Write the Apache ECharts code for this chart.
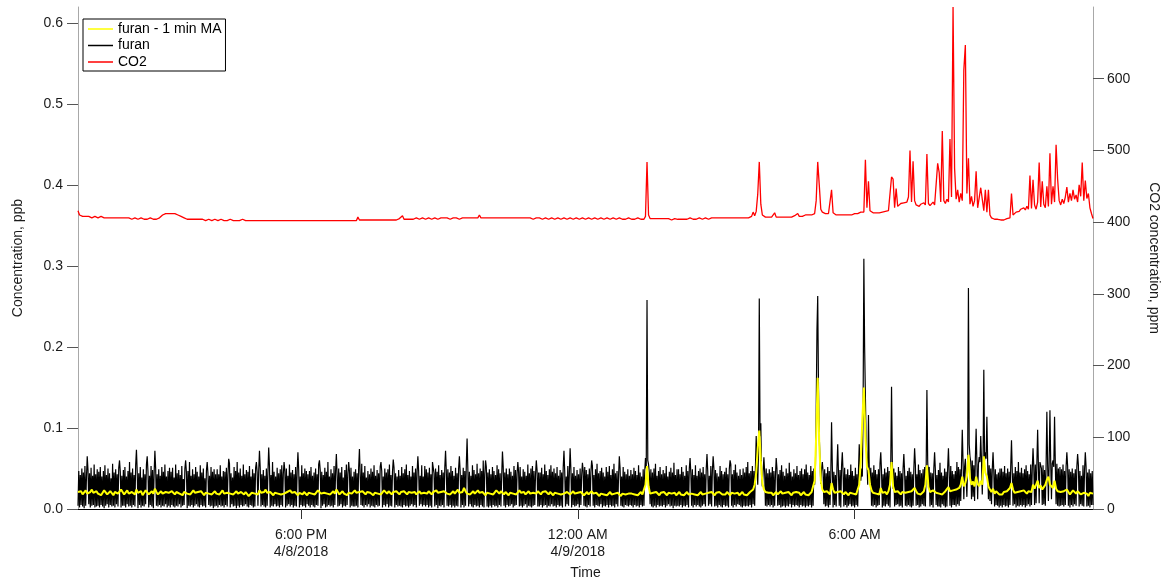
<!DOCTYPE html>
<html>
<head>
<meta charset="utf-8">
<script src="https://cdn.jsdelivr.net/npm/echarts@6/dist/echarts.min.js"></script>
<style>
  html, body { margin: 0; padding: 0; background: #fff; overflow: hidden; }
  #chart { width: 1165px; height: 581px; }
</style>
</head>
<body>
<div id="chart"></div>
<script>
// Series names, in legend order
const seriesNames = ['furan - 1 min MA', 'furan', 'CO2'];

// Record starts 4/8/2018 13:10 and ends 4/9/2018 11:10; one row per hour
const startTime = Date.UTC(2018, 3, 8, 13, 10);
const endTime = Date.UTC(2018, 3, 9, 11, 10);
const furanStepMinutes = 1;   // furan: one value per minute
const slowStepMinutes = 2;    // moving average and CO2: one value every 2 minutes

// Time axis ticks and their labels
const timeTicks = [Date.UTC(2018, 3, 8, 18, 0), Date.UTC(2018, 3, 9, 0, 0), Date.UTC(2018, 3, 9, 6, 0)];
const timeTickLabels = ['6:00 PM\n4/8/2018', '12:00 AM\n4/9/2018', '6:00 AM'];

// Left axis (ppb) and right axis (ppm) ticks
const ppbTicks = [0, 0.1, 0.2, 0.3, 0.4, 0.5, 0.6];
const ppmTicks = [0, 100, 200, 300, 400, 500, 600];

// furan, ppb (60 values per hour)
const furan = [
  [.004,.047,.002,.042,.005,.050,.003,.045,.001,.053, .004,.039,.065,.048,.006,.044,.002,.051,.004,.041, .005,.055,.002,.043,.003,.049,.004,.046,.002,.052,
   .005,.040,.003,.047,.001,.054,.004,.042,.006,.050, .002,.044,.005,.038,.003,.056,.004,.045,.002,.049, .006,.043,.003,.051,.060,.046,.002,.041,.004,.048],
  [.004,.052,.002,.040,.006,.047,.003,.058,.004,.045, .002,.050,.005,.042,.003,.054,.073,.047,.001,.044, .005,.052,.002,.039,.004,.049,.003,.043,.006,.055,
   .065,.046,.002,.041,.005,.053,.003,.048,.001,.044, .072,.050,.004,.043,.003,.049,.005,.041,.002,.052, .004,.046,.003,.055,.006,.040,.002,.047,.004,.051],
  [.002,.046,.005,.051,.003,.039,.002,.055,.004,.044, .003,.048,.006,.042,.002,.053,.004,.037,.005,.050, .060,.045,.001,.047,.004,.058,.003,.041,.005,.049,
   .002,.043,.004,.052,.006,.046,.003,.040,.002,.054, .005,.045,.003,.050,.004,.038,.002,.047,.058,.044, .005,.041,.003,.052,.004,.046,.001,.049,.003,.043],
  [.004,.049,.002,.043,.005,.054,.003,.040,.004,.047, .002,.046,.005,.051,.003,.042,.062,.056,.002,.044, .006,.039,.003,.052,.004,.047,.001,.058,.004,.045,
   .002,.050,.005,.041,.003,.055,.004,.043,.006,.048, .003,.046,.002,.053,.005,.040,.004,.049,.002,.044, .003,.051,.058,.045,.004,.047,.072,.050,.003,.043],
  [.005,.048,.003,.041,.002,.050,.004,.045,.076,.053, .002,.042,.004,.058,.003,.046,.006,.040,.003,.051, .004,.044,.002,.049,.005,.054,.003,.043,.058,.047,
   .002,.050,.004,.041,.006,.055,.003,.045,.005,.048, .002,.043,.004,.052,.003,.046,.070,.049,.002,.040, .005,.054,.003,.044,.004,.050,.002,.047,.006,.043],
  [.004,.047,.002,.052,.005,.041,.003,.045,.002,.050, .005,.043,.004,.055,.060,.048,.001,.046,.004,.042, .006,.051,.002,.046,.003,.058,.005,.040,.003,.049,
   .004,.044,.002,.053,.005,.047,.068,.041,.003,.050, .004,.045,.006,.052,.002,.039,.004,.048,.003,.055, .005,.043,.058,.047,.002,.051,.004,.040,.003,.046],
  [.003,.049,.004,.044,.002,.051,.074,.042,.005,.056, .004,.045,.002,.053,.005,.039,.003,.047,.006,.043, .002,.050,.004,.046,.003,.054,.002,.041,.005,.048,
   .003,.044,.004,.052,.058,.047,.002,.040,.005,.050, .003,.045,.006,.049,.002,.055,.004,.042,.003,.046, .061,.051,.002,.044,.005,.040,.003,.048,.004,.041],
  [.003,.052,.002,.044,.005,.049,.003,.055,.004,.042, .002,.047,.004,.040,.006,.053,.003,.045,.005,.050, .002,.046,.065,.047,.004,.041,.006,.054,.003,.040,
   .005,.053,.003,.049,.005,.045,.002,.051,.004,.043, .002,.058,.058,.044,.003,.050,.005,.046,.001,.054, .004,.042,.003,.048,.005,.045,.002,.051,.072,.046],
  [.004,.049,.003,.045,.005,.053,.002,.047,.004,.041, .002,.051,.004,.044,.003,.050,.065,.046,.002,.042, .005,.051,.002,.047,.004,.055,.087,.049,.003,.046,
   .006,.041,.003,.054,.002,.048,.005,.043,.003,.056, .004,.044,.002,.050,.005,.047,.003,.060,.002,.043, .060,.052,.003,.045,.002,.049,.004,.043,.002,.052],
  [.005,.047,.003,.042,.004,.054,.002,.049,.005,.044, .003,.040,.071,.052,.004,.045,.002,.050,.005,.043, .003,.050,.004,.046,.006,.041,.002,.053,.004,.048,
   .005,.043,.058,.046,.003,.052,.004,.040,.002,.049, .004,.046,.006,.041,.002,.055,.004,.044,.003,.050, .002,.053,.004,.047,.005,.042,.060,.048,.003,.045],
  [.003,.045,.005,.051,.002,.043,.004,.055,.005,.047, .002,.042,.004,.049,.003,.054,.006,.046,.003,.050, .004,.044,.002,.052,.005,.041,.003,.048,.004,.045,
   .002,.051,.072,.046,.003,.040,.006,.053,.004,.044, .075,.049,.002,.044,.005,.052,.003,.041,.004,.048, .006,.043,.002,.050,.005,.041,.057,.047,.004,.052],
  [.003,.048,.002,.043,.005,.050,.003,.045,.060,.053, .004,.042,.002,.049,.005,.056,.004,.044,.003,.047, .006,.051,.002,.045,.004,.040,.003,.052,.005,.046,
   .002,.053,.005,.042,.003,.049,.004,.056,.002,.044, .006,.047,.003,.041,.065,.050,.004,.040,.003,.052, .002,.046,.005,.043,.004,.049,.003,.041,.005,.048],
  [.004,.043,.002,.051,.005,.047,.003,.042,.004,.054, .002,.045,.005,.040,.003,.049,.004,.046,.063,.050, .258,.060,.055,.045,.006,.049,.003,.045,.002,.050,
   .004,.056,.002,.041,.005,.047,.003,.052,.004,.043, .003,.048,.005,.044,.002,.053,.004,.040,.006,.046, .003,.051,.004,.045,.001,.057,.004,.042,.003,.049],
  [.004,.049,.003,.043,.005,.052,.002,.046,.004,.041, .003,.054,.005,.047,.002,.050,.063,.044,.004,.049, .002,.042,.005,.054,.003,.041,.005,.047,.003,.050,
   .002,.045,.004,.052,.006,.043,.003,.049,.068,.046, .004,.041,.006,.053,.003,.047,.065,.050,.003,.048, .004,.044,.002,.040,.005,.053,.003,.047,.002,.043],
  [.005,.046,.003,.051,.004,.043,.002,.049,.060,.055, .004,.043,.002,.048,.005,.055,.003,.045,.006,.041, .005,.049,.003,.042,.002,.050,.004,.045,.003,.052,
   .004,.058,.003,.044,.005,.047,.002,.053,.006,.047, .004,.051,.090,.050,.030,.070,.260,.090,.106,.040, .028,.030,.064,.045,.004,.050,.003,.044,.005,.049],
  [.003,.045,.005,.052,.002,.047,.004,.041,.063,.050, .004,.043,.005,.048,.002,.054,.003,.046,.004,.041, .002,.050,.004,.044,.003,.057,.006,.046,.002,.040,
   .005,.049,.003,.044,.005,.053,.004,.042,.002,.047, .005,.050,.003,.043,.004,.049,.002,.055,.004,.045, .003,.042,.005,.053,.002,.047,.004,.050,.030,.050],
  [.120,.220,.263,.150,.090,.060,.031,.050,.058,.046, .006,.049,.003,.044,.004,.052,.002,.047,.005,.041, .107,.053,.002,.046,.005,.042,.003,.050,.080,.044,
   .004,.048,.002,.053,.070,.045,.003,.051,.005,.043, .002,.049,.004,.042,.006,.055,.003,.047,.004,.041, .002,.051,.005,.043,.003,.047,.080,.052,.035,.050],
  [.040,.120,.309,.200,.200,.080,.060,.030,.116,.050, .032,.051,.004,.045,.003,.054,.005,.048,.002,.043, .004,.049,.005,.056,.070,.046,.002,.043,.004,.050,
   .003,.045,.006,.052,.004,.047,.002,.056,.151,.060, .025,.050,.003,.045,.005,.041,.006,.052,.003,.047, .004,.044,.002,.050,.068,.046,.004,.041,.003,.047],
  [.005,.051,.003,.046,.002,.043,.004,.049,.075,.055, .004,.043,.005,.055,.002,.048,.003,.044,.006,.049, .004,.052,.003,.046,.147,.060,.030,.052,.003,.045,
   .005,.044,.002,.050,.070,.048,.005,.042,.003,.048, .003,.057,.002,.045,.006,.041,.004,.050,.002,.046, .003,.051,.075,.044,.004,.053,.002,.047,.005,.043],
  [.005,.047,.003,.058,.006,.052,.004,.049,.010,.055, .098,.058,.012,.052,.062,.060,.015,.056,.273,.080, .065,.058,.012,.060,.015,.054,.010,.062,.099,.058,
   .012,.055,.064,.058,.090,.060,.018,.057,.172,.060, .070,.062,.114,.058,.012,.054,.010,.050,.006,.049, .070,.046,.003,.049,.005,.043,.004,.045,.002,.050],
  [.004,.050,.002,.046,.005,.053,.003,.044,.004,.050, .002,.046,.005,.052,.085,.047,.004,.044,.006,.052, .002,.047,.004,.058,.003,.045,.005,.051,.003,.044,
   .005,.049,.002,.054,.004,.047,.006,.043,.003,.055, .005,.049,.075,.052,.005,.055,.007,.056,.098,.054, .007,.058,.060,.050,.005,.054,.006,.048,.004,.053],
  [.120,.055,.010,.060,.122,.058,.012,.056,.060,.052, .114,.055,.006,.056,.004,.050,.003,.052,.004,.049, .005,.055,.003,.047,.005,.052,.070,.053,.004,.049,
   .002,.046,.005,.050,.003,.044,.006,.049,.004,.052, .068,.054,.003,.047,.006,.041,.004,.054,.003,.048, .070,.052,.003,.045,.004,.049,.002,.044,.005,.047],
  [.005]
];

// furan 1-minute moving average, ppb (30 values per hour)
const furanMA = [
  [.021,.019,.022,.018,.020,.023,.019,.017,.021,.024, .020,.018,.022,.019,.021,.017,.020,.023,.021,.018, .019,.022,.020,.017,.021,.023,.019,.020,.024,.021],
  [.018,.020,.023,.019,.017,.021,.022,.018,.024,.020, .019,.022,.017,.020,.023,.021,.018,.020,.022,.019, .025,.021,.018,.020,.022,.019,.017,.021,.023,.020],
  [.019,.022,.020,.018,.021,.023,.019,.020,.017,.021, .022,.019,.021,.018,.020,.023,.020,.018,.021,.019, .022,.020,.017,.020,.022,.019,.021,.018,.020,.022],
  [.019,.021,.018,.020,.023,.019,.017,.020,.022,.019, .021,.018,.020,.022,.019,.017,.021,.020,.018,.021, .019,.016,.018,.020,.022,.019,.021,.018,.023,.020],
  [.019,.021,.024,.020,.018,.021,.019,.017,.020,.022, .019,.021,.018,.020,.019,.017,.021,.019,.023,.020, .018,.021,.019,.017,.020,.022,.018,.021,.019,.017],
  [.020,.022,.019,.021,.018,.020,.023,.021,.019,.017, .020,.022,.019,.021,.018,.020,.022,.019,.024,.021, .018,.020,.022,.019,.021,.017,.020,.022,.019,.021],
  [.023,.020,.018,.021,.019,.022,.020,.018,.021,.023, .020,.019,.017,.020,.022,.019,.021,.018,.020,.023, .021,.019,.022,.020,.018,.021,.019,.022,.020,.018],
  [.021,.019,.022,.020,.018,.021,.023,.020,.019,.021, .018,.020,.022,.019,.017,.020,.021,.019,.022,.020, .018,.021,.019,.023,.020,.018,.021,.019,.022,.020],
  [.019,.021,.018,.020,.022,.019,.021,.024,.020,.018, .021,.026,.022,.019,.021,.018,.020,.022,.019,.021, .023,.020,.018,.021,.019,.017,.020,.022,.019,.021],
  [.018,.020,.023,.021,.019,.022,.020,.018,.021,.019, .017,.020,.022,.019,.021,.018,.020,.023,.020,.019, .021,.018,.020,.022,.019,.017,.020,.021,.019,.022],
  [.020,.018,.021,.019,.022,.020,.018,.021,.019,.017, .020,.022,.019,.021,.018,.020,.019,.017,.021,.019, .018,.020,.022,.019,.017,.020,.018,.021,.019,.017],
  [.019,.021,.018,.020,.022,.019,.017,.020,.018,.016, .019,.021,.018,.020,.017,.019,.021,.018,.020,.019, .017,.020,.018,.016,.019,.021,.018,.020,.019,.017],
  [.019,.021,.018,.020,.017,.019,.021,.018,.020,.030, .053,.028,.019,.017,.020,.018,.021,.019,.017,.020, .018,.021,.019,.017,.020,.022,.019,.018,.020,.017],
  [.019,.021,.018,.020,.017,.019,.021,.018,.016,.019, .021,.018,.020,.017,.019,.021,.018,.020,.019,.017, .020,.018,.021,.019,.017,.020,.018,.021,.019,.018],
  [.020,.018,.021,.019,.017,.020,.022,.019,.018,.020, .017,.019,.021,.018,.020,.017,.019,.021,.022,.024, .030,.045,.075,.097,.060,.032,.024,.021,.019,.020],
  [.018,.020,.017,.019,.021,.018,.020,.022,.019,.017, .020,.018,.021,.019,.017,.020,.018,.021,.019,.020, .017,.019,.021,.018,.020,.017,.019,.021,.023,.035],
  [.090,.162,.080,.035,.024,.021,.019,.022,.020,.018, .032,.024,.020,.018,.021,.019,.022,.020,.018,.021, .019,.017,.020,.022,.019,.021,.018,.024,.030,.060],
  [.110,.150,.090,.052,.048,.030,.023,.020,.022,.019, .021,.018,.026,.020,.019,.021,.018,.022,.030,.058, .028,.021,.019,.022,.020,.018,.021,.023,.020,.019],
  [.021,.019,.022,.020,.026,.022,.019,.021,.018,.020, .022,.030,.054,.027,.021,.019,.023,.025,.020,.022, .019,.021,.018,.020,.022,.024,.027,.022,.020,.023],
  [.021,.024,.022,.026,.030,.040,.028,.032,.040,.067, .038,.030,.034,.028,.040,.031,.028,.035,.030,.065, .045,.040,.028,.024,.021,.025,.019,.022,.020,.018],
  [.020,.018,.021,.019,.022,.020,.026,.032,.024,.020, .018,.021,.019,.022,.020,.023,.021,.019,.022,.024, .021,.030,.025,.027,.035,.026,.029,.024,.027,.030],
  [.036,.040,.030,.028,.026,.035,.025,.022,.024,.021, .019,.022,.020,.024,.021,.018,.020,.023,.021,.019, .022,.020,.018,.017,.020,.022,.019,.016,.020,.018],
  [.019]
];

// CO2, ppm (30 values per hour)
const co2 = [
  [416,410,409,408,407,408,407,408,407,406, 407,408,407,406,407,408,407,406,407,406, 407,406,407,406,405,406,407,406,405,406],
  [405,406,405,406,405,404,405,406,405,404, 405,406,405,404,405,404,405,406,405,404, 405,404,405,406,408,410,411,412,411,412],
  [413,412,411,412,411,410,409,408,407,406, 405,404,405,404,403,404,403,404,403,404, 403,404,403,402,403,404,403,402,403,404],
  [403,402,403,404,403,402,403,402,403,404, 403,402,403,402,403,402,403,404,403,402, 403,402,401,402,403,402,403,402,403,402],
  [403,402,403,402,401,402,403,402,403,402, 401,402,403,402,401,402,403,402,401,402, 403,402,401,402,403,402,401,402,403,402],
  [401,402,403,402,401,402,403,402,401,402, 403,402,401,402,403,402,403,402,401,402, 403,402,403,402,403,402,403,402,403,402],
  [403,402,407,403,402,403,402,403,404,403, 402,403,404,403,402,403,404,403,402,403, 404,403,404,403,404,403,404,403,404,405],
  [404,409,404,405,404,405,404,405,404,405, 406,405,404,405,406,405,404,405,406,405, 404,405,406,405,404,405,406,405,406,405],
  [406,405,404,405,406,405,406,405,404,405, 406,405,406,405,406,405,406,405,406,405, 406,410,406,405,406,405,406,407,406,405],
  [406,405,406,407,406,405,406,405,406,407, 406,405,406,405,406,405,406,407,406,405, 406,405,406,405,406,405,404,405,406,405],
  [406,405,404,405,406,405,404,405,406,405, 404,405,406,405,404,405,406,405,404,405, 406,405,404,405,406,405,404,405,406,405],
  [404,405,406,405,404,405,406,405,404,405, 406,405,404,405,406,405,404,405,406,405, 404,405,406,405,404,405,404,405,406,405],
  [404,405,404,405,406,405,404,405,404,408, 484,410,405,404,405,404,405,404,405,404, 405,404,405,404,405,404,403,404,405,404],
  [404,405,404,405,404,405,404,405,406,405, 404,405,404,405,406,405,404,405,406,405, 404,405,406,405,406,405,406,405,406,405],
  [406,405,406,405,406,405,406,405,406,407, 406,405,406,407,406,405,406,407,408,414, 409,415,439,484,425,410,408,407,408,407],
  [408,407,408,413,407,408,407,408,407,408, 407,408,407,408,407,408,409,408,412,408, 409,408,409,410,409,410,411,410,411,412],
  [430,484,452,418,414,413,412,413,412,411, 445,413,411,410,409,410,409,410,409,410, 409,410,409,410,411,412,413,412,413,414],
  [413,414,487,420,457,416,414,413,412,413, 414,413,412,414,413,415,414,416,418,463, 460,420,447,422,424,426,425,427,426,428],
  [435,500,428,485,430,424,426,422,425,423, 427,424,495,426,423,425,428,424,426,482, 469,428,527,430,426,432,428,516,435,700],
  [475,432,445,428,440,430,612,647,440,489, 425,436,422,430,471,420,418,448,450,416, 445,414,445,410,406,405,404,403,404,403],
  [403,404,403,404,405,404,406,440,410,412, 414,416,415,418,416,420,417,422,418,465, 419,459,424,418,428,483,421,457,425,420],
  [450,422,496,425,450,428,508,460,430,424, 432,426,435,449,428,440,430,445,432,438, 428,452,436,483,430,458,433,440,420,412],
  [405]
];

const FONT = '"Liberation Sans", Arial, "DejaVu Sans", sans-serif';

// Attach a timestamp to every sample (row = hour, column = step within the hour)
function toPoints(rows, stepMinutes) {
  const pts = [];
  rows.forEach((row, h) => {
    row.forEach((v, j) => {
      pts.push([startTime + h * 3600e3 + j * stepMinutes * 60e3, v]);
    });
  });
  return pts;
}

const chart = echarts.init(document.getElementById('chart'), null, { renderer: 'canvas' });

const axisGray = '#a8a8a8';
const labelStyle = { fontFamily: FONT, fontSize: 14, color: '#1a1a1a' };

chart.setOption({
  animation: false,
  backgroundColor: '#fff',
  grid: { left: 78, right: 72, top: 7, bottom: 72, containLabel: false, outerBoundsMode: 'none' },
  legend: {
    data: seriesNames,
    orient: 'vertical',
    left: 83,
    top: 19,
    padding: [3, 4, 2, 5],
    itemGap: 2.5,
    itemWidth: 25,
    itemHeight: 1.5,
    icon: 'rect',
    borderColor: '#000',
    borderWidth: 1,
    borderRadius: 0,
    backgroundColor: '#fff',
    textStyle: { fontFamily: FONT, fontSize: 14, color: '#000' },
    selectedMode: false,
    z: 10
  },
  xAxis: {
    type: 'value',
    min: startTime,
    max: endTime,
    splitLine: { show: false },
    axisLine: { show: true, onZero: false, lineStyle: { color: '#000', width: 1 } },
    axisTick: { show: true, length: 10, customValues: timeTicks, lineStyle: { color: '#333' } },
    axisLabel: {
      customValues: timeTicks,
      formatter: v => timeTickLabels[timeTicks.indexOf(v)] || '',
      margin: 18,
      lineHeight: 17,
      ...labelStyle
    },
    name: 'Time',
    nameLocation: 'middle',
    nameGap: 56,
    nameTextStyle: { ...labelStyle }
  },
  yAxis: [
    {
      type: 'value',
      position: 'left',
      min: 0,
      max: 0.62,
      splitLine: { show: false },
      axisLine: { show: true, lineStyle: { color: axisGray, width: 1 } },
      axisTick: { show: true, length: 11, customValues: ppbTicks, lineStyle: { color: '#555' } },
      axisLabel: { customValues: ppbTicks, formatter: v => v.toFixed(1), margin: 15, ...labelStyle },
      name: 'Concentration, ppb',
      nameLocation: 'middle',
      nameGap: 53,
      nameTextStyle: { ...labelStyle }
    },
    {
      type: 'value',
      position: 'right',
      min: 0,
      max: 700,
      splitLine: { show: false },
      axisLine: { show: true, lineStyle: { color: axisGray, width: 1 } },
      axisTick: { show: true, length: 11, customValues: ppmTicks, lineStyle: { color: '#555' } },
      axisLabel: { customValues: ppmTicks, margin: 14, ...labelStyle },
      name: 'CO2 concentration, ppm',
      nameLocation: 'middle',
      nameRotate: -90,
      nameGap: 54,
      nameTextStyle: { ...labelStyle }
    }
  ],
  series: [
    {
      name: seriesNames[2],
      type: 'line',
      yAxisIndex: 1,
      data: toPoints(co2, slowStepMinutes),
      symbol: 'none',
      color: '#ff0000',
      lineStyle: { color: '#ff0000', width: 1.3 },
      z: 2
    },
    {
      name: seriesNames[1],
      type: 'line',
      yAxisIndex: 0,
      data: toPoints(furan, furanStepMinutes),
      symbol: 'none',
      color: '#000',
      lineStyle: { color: '#000', width: 1.2 },
      z: 3
    },
    {
      name: seriesNames[0],
      type: 'line',
      yAxisIndex: 0,
      data: toPoints(furanMA, slowStepMinutes),
      symbol: 'none',
      color: '#ffff00',
      lineStyle: { color: '#ffff00', width: 2 },
      z: 4
    }
  ]
});
</script>
</body>
</html>
